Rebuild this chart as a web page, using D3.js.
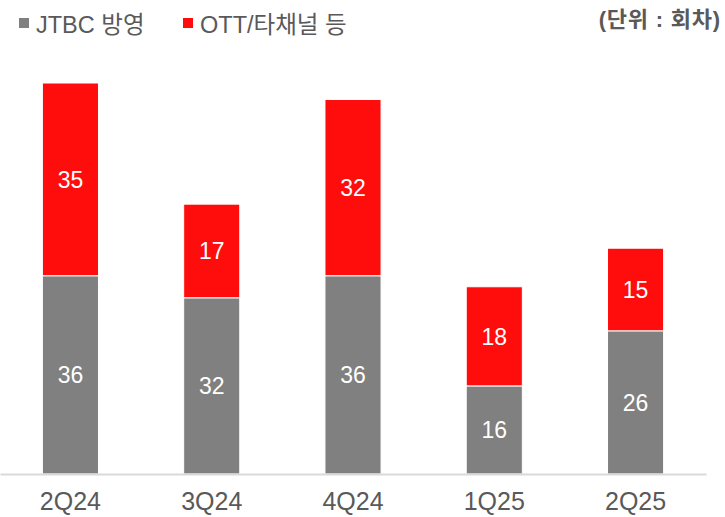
<!DOCTYPE html>
<html>
<head>
<meta charset="utf-8">
<script src="https://cdn.jsdelivr.net/npm/d3@7"></script>
<style>
  body { margin: 0; background: #fff; }
  text { font-family: "Liberation Sans", Arial, "Noto Sans CJK KR", sans-serif; }
</style>
</head>
<body>
<script>
// chart data
var quarters = ["2Q24", "3Q24", "4Q24", "1Q25", "2Q25"];
var jtbcAir = [36, 32, 36, 16, 26];
var ottEtc = [35, 17, 32, 18, 15];
var seriesNames = ["JTBC 방영", "OTT/타채널 등"];
var unitLabel = "(단위 : 회차)";

var grey = "#808080";
var red = "#ff0c0c";
var textGrey = "#595959";

var width = 725, height = 517;

var svg = d3.select("body").append("svg")
    .attr("width", width)
    .attr("height", height);

var rows = quarters.map(function (q, i) {
    return { q: q, jtbc: jtbcAir[i], ott: ottEtc[i] };
});

var stack = d3.stack().keys(["jtbc", "ott"])(rows);

var x = d3.scaleBand()
    .domain(quarters)
    .range([0, 706])
    .paddingInner(0.603)
    .paddingOuter(0.3);

var y = d3.scaleLinear()
    .domain([0, d3.max(rows, function (d) { return d.jtbc + d.ott; })])
    .range([474, 83]);

var colors = [grey, red];

// bars
var layers = svg.selectAll("g.layer")
    .data(stack)
    .enter().append("g")
    .attr("class", "layer")
    .attr("fill", function (d, i) { return colors[i]; });

layers.selectAll("rect")
    .data(function (d) { return d; })
    .enter().append("rect")
    .attr("x", function (d) { return x(d.data.q); })
    .attr("y", function (d) { return y(d[1]); })
    .attr("width", x.bandwidth())
    .attr("height", function (d) { return y(d[0]) - y(d[1]); })
    .attr("stroke", "#fff")
    .attr("stroke-width", 1);

// value labels
layers.selectAll("text")
    .data(function (d) { return d; })
    .enter().append("text")
    .attr("x", function (d) { return x(d.data.q) + x.bandwidth() / 2; })
    .attr("y", function (d) { return (y(d[0]) + y(d[1])) / 2; })
    .attr("dy", "0.36em")
    .attr("text-anchor", "middle")
    .attr("fill", "#fff")
    .style("font-size", "23px")
    .text(function (d) { return d[1] - d[0]; });

// x axis
var xAxis = svg.append("g")
    .attr("transform", "translate(0," + y(0) + ")")
    .call(d3.axisBottom(x).tickSize(0).tickPadding(18));
xAxis.select(".domain").attr("stroke", "#d9d9d9").attr("stroke-width", 2);
xAxis.selectAll("text")
    .attr("fill", textGrey)
    .style("font-size", "25px")
    .style("font-family", "'Liberation Sans', Arial, sans-serif");

// legend
var legend = svg.append("g");
var legendX = [19, 183];
seriesNames.forEach(function (name, i) {
    legend.append("rect")
        .attr("x", legendX[i])
        .attr("y", 18)
        .attr("width", 10)
        .attr("height", 10)
        .attr("fill", colors[i]);
    legend.append("text")
        .attr("x", legendX[i] + 17)
        .attr("y", 33)
        .attr("fill", textGrey)
        .style("font-size", "23.5px")
        .text(name);
});

svg.append("text")
    .attr("x", 721)
    .attr("y", 27)
    .attr("text-anchor", "end")
    .attr("fill", textGrey)
    .style("font-size", "22px")
    .style("letter-spacing", "0.8px")
    .style("font-weight", "bold")
    .text(unitLabel);
</script>
</body>
</html>
